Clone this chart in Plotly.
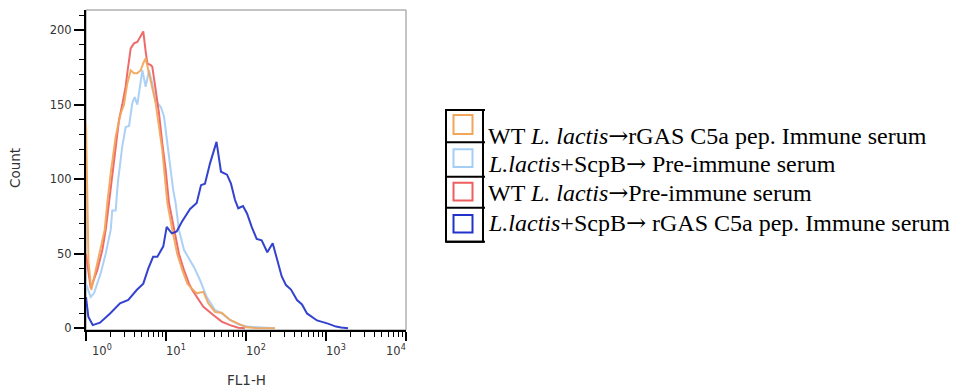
import numpy as np
import plotly.graph_objects as go

# ---------------- data (FL1-H value, Count) ----------------
ARROW = '<span style="font-family:\'DejaVu Serif\'">→</span>'
series_names = [
    "WT <i>L. lactis</i>" + ARROW + "rGAS C5a pep. Immune serum",
    "<i>L.lactis</i>+ScpB" + ARROW + " Pre-immune serum",
    "WT <i>L. lactis</i>" + ARROW + "Pre-immune serum",
    "<i>L.lactis</i>+ScpB" + ARROW + " rGAS C5a pep. Immune serum",
]

orange_x = [1.0, 1.03, 1.074, 1.165, 1.322, 1.527, 1.713, 1.846, 2.036, 2.35,
            2.71, 2.985, 3.28, 3.62, 3.98, 4.38, 4.83, 5.2, 5.57, 6.13,
            6.74, 7.43, 8.18, 8.99, 9.57, 10.4, 12.0, 13.8, 16.0, 18.5,
            20.9, 24.2, 29.3, 33.8, 41, 49.7, 63.1, 80.1, 102, 130, 230]
orange_y = [137, 90, 45, 25.7, 39, 52.5, 66, 84, 104, 128.5,
            144, 150, 164, 173, 171, 171, 173, 177.7, 181, 171,
            162, 151, 135, 119.5, 104, 84, 66, 50, 39, 30,
            26.8, 23.5, 24.5, 16.8, 11, 10.5, 5.6, 2.9, 0.7, 0.3, 0]

lightblue_x = [1.0, 1.145, 1.259, 1.527, 1.763, 2.036, 2.13, 2.35, 2.46, 2.53,
               2.84, 3.13, 3.45, 3.79, 4.06, 4.38, 5.06, 5.57, 6.13, 6.74,
               7.43, 8.59, 9.44, 10.4, 11.5, 12.3, 13.2, 14.5, 16.8, 20.4,
               22.4, 26.6, 32.3, 41, 49.7, 63.1, 84, 112, 200, 230]
lightblue_y = [30, 21, 23.5, 37, 50, 66, 79, 79, 93, 100,
               122, 135, 135.6, 151, 155, 150, 173, 162, 173, 164,
               152, 148.6, 142, 124, 106, 92.7, 84, 66, 52.5, 44.7,
               41, 32.4, 21, 12.3, 10, 5.6, 2.2, 1, 0.4, 0]

red_x = [1.0, 1.145, 1.384, 1.6, 1.763, 1.94, 2.13, 2.35, 2.585, 2.84,
         3.13, 3.28, 3.62, 3.98, 4.38, 4.91, 5.2, 5.57, 5.84, 6.44,
         6.74, 7.43, 8.18, 8.99, 9.91, 10.9, 12.6, 14.5, 16.8, 19.4,
         21.3, 24.2, 29.3, 39, 49.7, 63.1, 80.1, 97]
red_y = [50, 27, 39, 52.5, 66, 84, 104, 124, 139.7, 150,
         162, 171, 187.7, 191, 192, 196.6, 199, 185.5, 177.7, 176.5,
         175.4, 159.8, 144, 124, 106, 84, 66, 50, 39, 30,
         25.7, 21, 14.5, 9, 4.5, 2.2, 0.4, 0]

darkblue_x = [1.0, 1.069, 1.213, 1.496, 2.0, 2.66, 3.38, 4.3, 5.2, 6.0,
              6.9, 7.8, 9.25, 10.2, 11.8, 13.6, 15.8, 17.8, 20, 24.2,
              27.4, 30.7, 35.5, 42.8, 48.7, 57.9, 64.9, 72.9, 80.1, 91.7,
              103, 117.8, 136, 157, 184.5, 215.7, 244, 279, 316, 365,
              434, 501, 579, 772, 1059, 1334, 1549, 1884]
darkblue_y = [21, 7.8, 2.2, 3.8, 10, 16.8, 19, 25.7, 30, 40,
              48, 48, 55, 68, 63.7, 65, 71.5, 76, 80, 84,
              96, 97, 110.6, 125, 105, 103, 97, 86, 80.5, 82,
              77, 68, 60, 59, 51, 57, 46, 35, 29, 26,
              19, 16, 10, 5.3, 3.2, 1.2, 0.6, 0]

x_tick_vals = [1, 10, 100, 1000, 10000]
x_tick_text = ["10<sup>0</sup>", "10<sup>1</sup>", "10<sup>2</sup>", "10<sup>3</sup>", "10<sup>4</sup>"]
y_tick_vals = [0, 50, 100, 150, 200]
x_title = "FL1-H"
y_title = "Count"

# ---------------- styling ----------------
colors = ["#F2A65A", "#A5CDF6", "#EE5E5E", "#2233CC"]
series_data = [(orange_x, orange_y), (lightblue_x, lightblue_y), (red_x, red_y), (darkblue_x, darkblue_y)]
draw_order = [1, 2, 0, 3]

W, H = 962, 392
PX0, PX1, PY0, PY1 = 86, 406, 10, 330


def px(x):
    return (x - PX0) / (PX1 - PX0)


def py(y):
    return (PY1 - y) / (PY1 - PY0)


fig = go.Figure()
for i in draw_order:
    xs, ys = series_data[i]
    fig.add_trace(go.Scatter(x=xs, y=ys, mode="lines", name=series_names[i],
                             line=dict(color=colors[i], width=2), opacity=0.92,
                             showlegend=False, hoverinfo="skip"))

tick_font = dict(family="DejaVu Sans", size=11.5, color="#333333")
title_font = dict(family="DejaVu Sans", size=13.5, color="#333333")

fig.update_layout(
    width=W, height=H,
    margin=dict(l=PX0, r=W - PX1, t=PY0, b=H - PY1),
    plot_bgcolor="white", paper_bgcolor="white",
    showlegend=False,
)
fig.update_xaxes(
    type="log", range=[0, 4], showgrid=False, zeroline=False,
    showline=True, linecolor="black", linewidth=2,
    ticks="outside", ticklen=9, tickwidth=1.5, tickcolor="black",
    tickvals=x_tick_vals, showticklabels=False,
    minor=dict(ticks="outside", ticklen=5, tickwidth=1.2, tickcolor="black",
               dtick="D1", showgrid=False),
)
fig.update_yaxes(
    range=[-1.1, 213.4], showgrid=False, zeroline=False,
    showline=True, linecolor="black", linewidth=2,
    ticks="outside", ticklen=10, tickwidth=1.5, tickcolor="black",
    tickvals=y_tick_vals, tickfont=tick_font,
    minor=dict(ticks="outside", ticklen=5, tickwidth=1.2, tickcolor="black",
               dtick=10, tick0=0, showgrid=False),
)

shapes = []
# plot frame (thin gray)
shapes.append(dict(type="rect", xref="paper", yref="paper", x0=0, x1=1, y0=0, y1=1,
                   line=dict(color="#8a8a8a", width=1), layer="below"))

annotations = []
# x tick labels
label_shift = [16, 10, 10, 10, -10]
for v, t, s in zip(x_tick_vals, x_tick_text, label_shift):
    annotations.append(dict(x=np.log10(v), xref="x", y=0, yref="paper", text=t,
                            showarrow=False, xanchor="center", yanchor="top",
                            xshift=s, yshift=-11, font=tick_font))
# axis titles
annotations.append(dict(x=px(246), y=py(380), xref="paper", yref="paper", text=x_title,
                        showarrow=False, xanchor="center", yanchor="middle", font=title_font))
annotations.append(dict(x=px(15), y=py(168), xref="paper", yref="paper", text=y_title,
                        showarrow=False, xanchor="center", yanchor="middle", textangle=-90,
                        font=title_font))

# custom legend: bordered column of cells with colored squares
leg_x0, leg_x1, leg_xe = 446, 483, 485
leg_rows = [110, 142.3, 176.7, 207.7, 241.7]
shapes.append(dict(type="rect", xref="paper", yref="paper",
                   x0=px(leg_x0), x1=px(leg_x1), y0=py(leg_rows[-1]), y1=py(leg_rows[0]),
                   line=dict(color="black", width=2)))
for yy in leg_rows:
    shapes.append(dict(type="line", xref="paper", yref="paper",
                       x0=px(leg_x0), x1=px(leg_xe), y0=py(yy), y1=py(yy),
                       line=dict(color="black", width=2)))
sq_rows = [(115, 134), (149.3, 167), (182.7, 200.5), (215, 232.5)]
text_mid = [135.5, 164, 192.5, 222.5]
for i, (a, b) in enumerate(sq_rows):
    shapes.append(dict(type="rect", xref="paper", yref="paper",
                       x0=px(453.5), x1=px(472.5), y0=py(b), y1=py(a),
                       line=dict(color=colors[i], width=2)))
    annotations.append(dict(x=px(486), y=py(text_mid[i]), xref="paper", yref="paper",
                            text=series_names[i], showarrow=False, xanchor="left",
                            yanchor="middle",
                            font=dict(family="Liberation Serif", size=24, color="black")))

fig.update_layout(shapes=shapes, annotations=annotations)
fig.write_html("out.html", config={"displayModeBar": False},
               post_script="document.body.style.margin='0px';")
